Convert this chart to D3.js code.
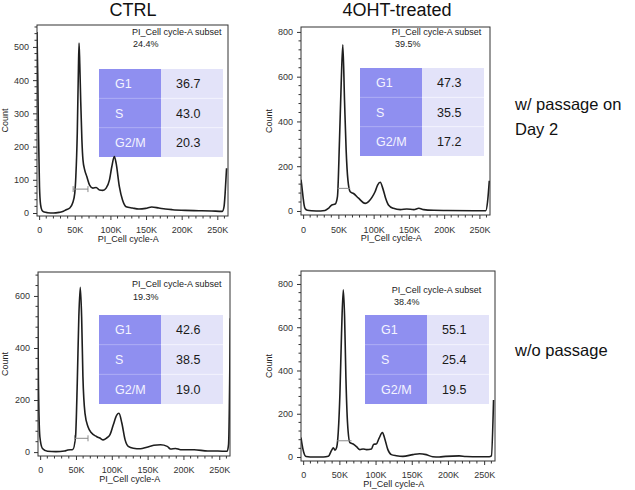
<!DOCTYPE html>
<html><head><meta charset="utf-8">
<script src="https://cdn.jsdelivr.net/npm/d3@7"></script>
<style>
body{margin:0;background:#fff}
svg{display:block}
text{font-family:"Liberation Sans",Arial,sans-serif}
</style>
</head><body>
<svg id="c" width="635" height="490"></svg>
<script>
// ---------------- DATA ----------------
const conditions = ["CTRL", "4OHT-treated"];
const rowLabels = [["w/ passage on", "Day 2"], ["w/o passage"]];
const phases = ["G1", "S", "G2/M"];
const xTicksK = [0, 50, 100, 150, 200, 250];
const xAxisLabel = "PI_Cell cycle-A";
const yAxisLabel = "Count";
const subsetName = "PI_Cell cycle-A subset";

// histogram points: [PI channel (K), count]
const ctrlPassageHist = [[-3,545],[-2,420],[-1,250],[0.5,80],[2,25],[4,8],[7,3],[12,1],[20,0],[28,2],[34,5],[38,10],[43,15],[47,30],[50,60],[51.5,110],[53.5,240],[55,420],[56,512],[57,450],[58.3,340],[60,220],[61.5,160],[63.9,130],[67,109],[70.8,84],[75.4,75],[80,77],[84.7,69],[89.3,68],[94,75],[98.6,99],[102,140],[105.5,170],[108,150],[112.5,80],[117,39],[122,19],[131,15],[140,12],[149.6,14],[158,18],[168,15],[177,12],[187,10],[205,8],[224,7],[242,6],[257,5],[259.5,20],[261,60],[263,135]];
const ohtPassageHist = [[-3,140],[-2,116],[0,60],[1.5,25],[3,10],[6,3],[12,1],[25,0],[31,2],[36,12],[40.7,27],[45.5,31],[48.7,64],[51.6,317],[54,570],[56.3,742],[58.7,496],[61,273],[63.5,139],[66.8,86],[71.5,78],[78.6,57],[88,34],[92.8,42],[97.6,61],[102,86],[105.6,116],[109.4,128],[113,101],[117,57],[121,27],[128,12],[138,6],[147,9],[157,6],[164,12],[171,6],[185,3],[204,2],[242,1],[259,1],[261.5,40],[264,135]];
const ctrlNoPassageHist = [[-4,690],[-3.8,674],[-2.4,265],[-0.4,59],[3.2,14],[10.3,3],[22,2],[34,4],[38.6,8],[45.6,10],[49.4,59],[51.8,264],[54,520],[56,633],[57.9,520],[59.7,290],[62.6,149],[66.8,97],[71.5,74],[78.6,60],[83.3,54],[88,47],[92.7,54],[97.5,67],[102,104],[106.9,142],[110,149],[114,112],[118.6,47],[123,22],[130,15],[139.8,13],[149,19],[158.6,26],[168,28],[177.4,22],[182,12],[189,14],[196,9],[215,9],[234,4],[248,4],[261,3],[263,30],[265.5,514]];
const ohtNoPassageHist = [[-3,90],[-1.8,63],[0.5,25],[4,2],[9.6,0],[28,0],[34.8,3],[39.4,32],[41.6,42],[44,32],[46.3,45],[48.5,117],[50.8,295],[53,572],[55.4,773],[57.2,650],[59,372],[61.3,156],[64.6,66],[69,60],[73.7,48],[78.3,34],[82.8,37],[87.5,34],[94.3,37],[97.5,59],[101,60],[104.8,86],[109.5,113],[112.6,86],[117,34],[121.8,11],[128.7,6],[137.8,3],[151.6,11],[160.7,15],[170,11],[179,1],[188,0],[197,3],[215.6,5],[225,2],[243,1],[257,1],[260,5],[263,264]];

// phase percentages
const ctrlPassagePhases = [36.7, 43.0, 20.3];
const ohtPassagePhases = [47.3, 35.5, 17.2];
const ctrlNoPassagePhases = [42.6, 38.5, 19.0];
const ohtNoPassagePhases = [55.1, 25.4, 19.5];

// subset percentages
const subsetPct = [24.4, 39.5, 19.3, 38.4];

// G1 gate bracket: [from K, to K, count level]
const ctrlPassageGate = [47.7, 68.5, 72];
const ohtPassageGate = [49, 66.8, 101];
const ctrlNoPassageGate = [48, 66.8, 53];
const ohtNoPassageGate = [47, 66.8, 75];

// y tick values per panel
const yTicksA = [0, 100, 200, 300, 400, 500];
const yTicksB = [0, 200, 400, 600, 800];
const yTicksC = [0, 200, 400, 600];
const yTicksD = [0, 200, 400, 600, 800];

// ---------------- LAYOUT ----------------
const panels = [
  {hist: ctrlPassageHist, pct: ctrlPassagePhases, subset: subsetPct[0], gate: ctrlPassageGate, yTicks: yTicksA, yMinor: 20,
   frame: [37, 25, 228, 216], yDom: [-9, 566], table: [99, 69, 161, 223, 157], sub: [132, 35.3, 47.3, 133], countX: 7.5, tickY: 233, labY: 242, gateEnds: true},
  {hist: ohtPassageHist, pct: ohtPassagePhases, subset: subsetPct[1], gate: ohtPassageGate, yTicks: yTicksB, yMinor: 40,
   frame: [301, 27, 490, 215], yDom: [-18, 822], table: [360, 68, 422, 484, 156], sub: [391.7, 35, 47, 395], countX: 271.5, tickY: 232.5, labY: 241, gateEnds: false},
  {hist: ctrlNoPassageHist, pct: ctrlNoPassagePhases, subset: subsetPct[2], gate: ctrlNoPassageGate, yTicks: yTicksC, yMinor: 40,
   frame: [38, 272, 230, 456], yDom: [-15, 692], table: [99, 315, 161, 223, 404], sub: [132, 287.3, 300, 133], countX: 7.5, tickY: 472.5, labY: 481.5, gateEnds: true},
  {hist: ohtNoPassageHist, pct: ohtNoPassagePhases, subset: subsetPct[3], gate: ohtNoPassageGate, yTicks: yTicksD, yMinor: 40,
   frame: [301, 271, 495, 461], yDom: [-18.5, 860], table: [365, 315, 427, 489, 404], sub: [391.7, 293.3, 305.3, 394], countX: 271.5, tickY: 478, labY: 487, gateEnds: false}
];

const svg = d3.select("#c");

// column titles
const titleX = [133, 397];
svg.selectAll("text.title").data(conditions).join("text")
  .attr("class", "title")
  .attr("x", (d, i) => titleX[i]).attr("y", 16)
  .attr("text-anchor", "middle").attr("font-size", 18).attr("fill", "#111")
  .text(d => d);

// row labels
const rowLabelY = [[110, 134.5], [356]];
rowLabels.forEach((lines, r) => {
  lines.forEach((t, j) => {
    svg.append("text").attr("x", 515).attr("y", rowLabelY[r][j])
      .attr("font-family", "'DejaVu Sans', sans-serif").attr("font-size", 16.5).attr("fill", "#111")
      .text(t);
  });
});

panels.forEach((p, i) => {
  const [l, t, r, b] = p.frame;
  const x = d3.scaleLinear().domain([-3, 265]).range([l, r]);
  const y = d3.scaleLinear().domain(p.yDom).range([b, t]);
  const g = svg.append("g");

  const clipId = "clip" + i;
  svg.append("clipPath").attr("id", clipId).append("rect")
    .attr("x", l).attr("y", t).attr("width", r - l).attr("height", b - t);

  // table (behind curve)
  const [tl, tt, tm, tr, tb] = p.table;
  const rowH = (tb - tt) / phases.length;
  const tg = g.append("g");
  phases.forEach((ph, k) => {
    const ry = tt + k * rowH;
    tg.append("rect").attr("x", tl).attr("y", ry).attr("width", tm - tl).attr("height", rowH).attr("fill", "#8f8ff0");
    tg.append("rect").attr("x", tm).attr("y", ry).attr("width", tr - tm).attr("height", rowH).attr("fill", "#e3e3f9");
    if (k > 0) {
      tg.append("line").attr("x1", tl).attr("x2", tm).attr("y1", ry).attr("y2", ry).attr("stroke", "#aaaaf5").attr("stroke-width", 1);
      tg.append("line").attr("x1", tm).attr("x2", tr).attr("y1", ry).attr("y2", ry).attr("stroke", "#f2f2fd").attr("stroke-width", 1);
    }
    tg.append("text").attr("x", tl + 16).attr("y", ry + rowH / 2).attr("dy", "0.36em")
      .attr("font-size", 12.5).attr("fill", "#f4f4ff").text(ph);
    tg.append("text").attr("x", tm + 15).attr("y", ry + rowH / 2).attr("dy", "0.36em")
      .attr("font-size", 12.5).attr("fill", "#1a1a1a").text(p.pct[k].toFixed(1));
  });

  // histogram curve
  const line = d3.line().x(d => x(d[0])).y(d => y(d[1])).curve(d3.curveMonotoneX);
  g.append("path").datum(p.hist).attr("d", line)
    .attr("fill", "none").attr("stroke", "#1e1e1e").attr("stroke-width", 1.6)
    .attr("clip-path", `url(#${clipId})`);

  // gate bracket
  const [g0, g1, gc] = p.gate;
  const gy = y(gc);
  g.append("line").attr("x1", x(g0)).attr("x2", x(g1)).attr("y1", gy).attr("y2", gy)
    .attr("stroke", "#8a8a8a").attr("stroke-width", 1);
  if (p.gateEnds) {
    [g0, g1].forEach(v => g.append("line").attr("x1", x(v)).attr("x2", x(v)).attr("y1", gy - 3).attr("y2", gy + 3)
      .attr("stroke", "#8a8a8a").attr("stroke-width", 1));
  }

  // frame
  g.append("rect").attr("x", l).attr("y", t).attr("width", r - l).attr("height", b - t)
    .attr("fill", "none").attr("stroke", "#333").attr("stroke-width", 1);

  // subset label
  g.append("text").attr("x", p.sub[0]).attr("y", p.sub[1]).attr("font-size", 9).attr("fill", "#222").text(subsetName);
  g.append("text").attr("x", p.sub[3]).attr("y", p.sub[2]).attr("font-size", 9).attr("fill", "#222").text(p.subset.toFixed(1) + "%");

  // x axis
  const xMinor = d3.range(0, 261, 10).filter(v => v % 50 !== 0);
  const xAx = g.append("g").attr("transform", `translate(0,${b})`);
  xAx.call(d3.axisBottom(x).tickValues(xTicksK).tickSize(4).tickFormat(d => d === 0 ? "0" : d + "K"));
  xAx.select(".domain").remove();
  xAx.selectAll(".tick line").attr("stroke", "#333");
  xAx.selectAll(".tick text").attr("font-size", 9).attr("fill", "#333").attr("font-family", "'Liberation Sans',Arial,sans-serif")
    .attr("y", p.tickY - b).attr("dy", 0);
  xAx.selectAll("line.minor").data(xMinor).join("line").attr("class", "minor")
    .attr("x1", d => x(d)).attr("x2", d => x(d)).attr("y1", 0).attr("y2", 2.5).attr("stroke", "#333");

  // y axis
  const yMinor = d3.range(0, p.yDom[1], p.yMinor).filter(v => !p.yTicks.includes(v));
  const yAx = g.append("g").attr("transform", `translate(${l},0)`);
  yAx.call(d3.axisLeft(y).tickValues(p.yTicks).tickSize(4).tickPadding(4));
  yAx.select(".domain").remove();
  yAx.selectAll(".tick line").attr("stroke", "#333");
  yAx.selectAll(".tick text").attr("font-size", 9).attr("fill", "#333").attr("font-family", "'Liberation Sans',Arial,sans-serif");
  yAx.selectAll("line.minor").data(yMinor).join("line").attr("class", "minor")
    .attr("y1", d => y(d)).attr("y2", d => y(d)).attr("x1", 0).attr("x2", -2.5).attr("stroke", "#333");

  // axis labels
  g.append("text").attr("x", (x(0) + x(250)) / 2).attr("y", p.labY).attr("text-anchor", "middle")
    .attr("font-size", 9).attr("fill", "#222").text(xAxisLabel);
  g.append("text").attr("transform", `translate(${p.countX},${(t + b) / 2}) rotate(-90)`)
    .attr("text-anchor", "middle").attr("font-size", 9).attr("fill", "#222").text(yAxisLabel);
});
</script>
</body></html>
